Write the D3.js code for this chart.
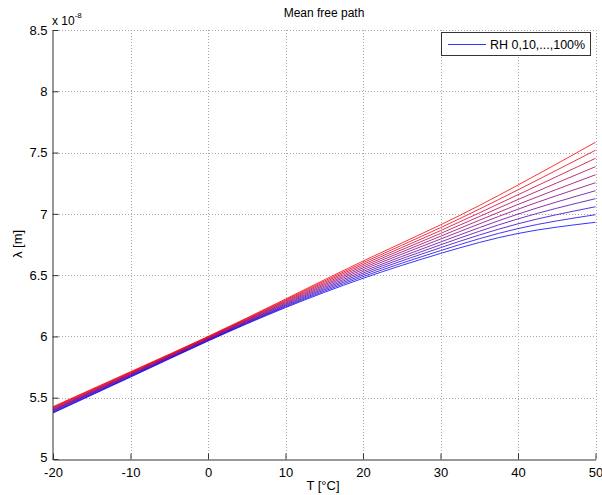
<!DOCTYPE html>
<html><head><meta charset="utf-8">
<script src="https://cdn.jsdelivr.net/npm/d3@7"></script>
<style>body{margin:0;background:#fff}svg{display:block}text{font-family:"Liberation Sans",Arial,sans-serif;fill:#000}</style>
</head><body>
<script>
// Temperatures (°C)
const temps = [-20, -10, 0, 10, 20, 30, 40, 50];
// Relative humidity levels (%)
const rhLevels = [0, 10, 20, 30, 40, 50, 60, 70, 80, 90, 100];
// Mean free path (x 1e-8 m), one array per RH level
const rh0   = [5.375, 5.668, 5.962, 6.235, 6.474, 6.677, 6.840, 6.931];
const rh10  = [5.380, 5.672, 5.966, 6.242, 6.488, 6.700, 6.880, 6.993];
const rh20  = [5.385, 5.677, 5.970, 6.249, 6.502, 6.724, 6.919, 7.058];
const rh30  = [5.391, 5.681, 5.973, 6.256, 6.516, 6.747, 6.959, 7.124];
const rh40  = [5.396, 5.686, 5.977, 6.263, 6.530, 6.770, 6.998, 7.189];
const rh50  = [5.401, 5.690, 5.981, 6.270, 6.545, 6.794, 7.038, 7.254];
const rh60  = [5.406, 5.694, 5.985, 6.277, 6.559, 6.817, 7.077, 7.319];
const rh70  = [5.411, 5.699, 5.989, 6.284, 6.573, 6.840, 7.117, 7.385];
const rh80  = [5.417, 5.703, 5.992, 6.291, 6.587, 6.863, 7.156, 7.453];
const rh90  = [5.422, 5.708, 5.996, 6.298, 6.601, 6.887, 7.196, 7.519];
const rh100 = [5.427, 5.712, 6.000, 6.305, 6.615, 6.910, 7.235, 7.584];
const seriesValues = [rh0, rh10, rh20, rh30, rh40, rh50, rh60, rh70, rh80, rh90, rh100];
const xTicks = [-20, -10, 0, 10, 20, 30, 40, 50];
const yTicks = [5, 5.5, 6, 6.5, 7, 7.5, 8, 8.5];
const legendLabel = "RH 0,10,...,100%";

const W = 602, H = 495;
const svg = d3.select("body").append("svg").attr("width", W).attr("height", H);
const x = d3.scaleLinear().domain([-20, 50]).range([53, 595.5]);
const y = d3.scaleLinear().domain([5, 8.5]).range([459, 30]);

// grid
const grid = svg.append("g").attr("stroke", "#a8a8a8").attr("stroke-width", 1).attr("stroke-dasharray", "1,2");
xTicks.filter(t => t !== -20).forEach(t => {
  grid.append("line").attr("x1", Math.round(x(t)) + 0.5).attr("x2", Math.round(x(t)) + 0.5)
    .attr("y1", y(8.5)).attr("y2", y(5));
});
yTicks.filter(t => t !== 5).forEach(t => {
  grid.append("line").attr("y1", Math.round(y(t)) + 0.5).attr("y2", Math.round(y(t)) + 0.5)
    .attr("x1", x(-20)).attr("x2", x(50));
});

// lines
const color = i => d3.rgb(Math.round(255 * i / 10), 0, Math.round(255 * (1 - i / 10)));
const line = d3.line().x((d, i) => x(temps[i])).y(d => y(d)).curve(d3.curveNatural);
svg.append("g").selectAll("path").data(seriesValues).join("path")
  .attr("d", line).attr("fill", "none")
  .attr("stroke", (d, i) => color(i)).attr("stroke-width", 0.8);

// axes (hyphen-minus like the reference)
const fmt = d => String(d);
const xAxis = d3.axisBottom(x).tickValues(xTicks).tickSizeInner(-6).tickSizeOuter(0).tickPadding(8).tickFormat(fmt);
const yAxis = d3.axisLeft(y).tickValues(yTicks).tickSizeInner(-6).tickSizeOuter(0).tickPadding(5).tickFormat(fmt);
const gx = svg.append("g").attr("transform", "translate(0,459.5)").call(xAxis);
const gy = svg.append("g").attr("transform", "translate(52.5,0)").call(yAxis);
[gx, gy].forEach(g => {
  g.select(".domain").attr("stroke", "#333");
  g.selectAll(".tick line").attr("stroke", "#333");
  g.selectAll("text").attr("font-size", 13).attr("font-family", "Liberation Sans, Arial, sans-serif").attr("fill", "#000");
});
gy.selectAll(".tick").filter(d => d === 5).select("text").attr("dy", "0.2em");

// exponent label
const ex = svg.append("text").attr("x", 52).attr("y", 25).attr("font-size", 12);
ex.append("tspan").text("x 10");
ex.append("tspan").attr("font-size", 8).attr("dy", -7).text("-8");

// title & axis labels
svg.append("text").attr("x", 324).attr("y", 17).attr("text-anchor", "middle").attr("font-size", 12).text("Mean free path");
svg.append("text").attr("x", 323).attr("y", 490).attr("text-anchor", "middle").attr("font-size", 13).text("T [°C]");
svg.append("text").attr("transform", "translate(22,244) rotate(-90)").attr("text-anchor", "middle").attr("font-size", 13).text("λ [m]");

// legend
const lg = svg.append("g");
lg.append("rect").attr("x", 441.5).attr("y", 32.5).attr("width", 149).attr("height", 23)
  .attr("fill", "#fff").attr("stroke", "#333").attr("stroke-width", 1);
lg.append("line").attr("x1", 448).attr("x2", 486).attr("y1", 44.5).attr("y2", 44.5)
  .attr("stroke", color(0)).attr("stroke-width", 0.8);
lg.append("text").attr("x", 490).attr("y", 49).attr("font-size", 12.5).text(legendLabel);
</script>
</body></html>
